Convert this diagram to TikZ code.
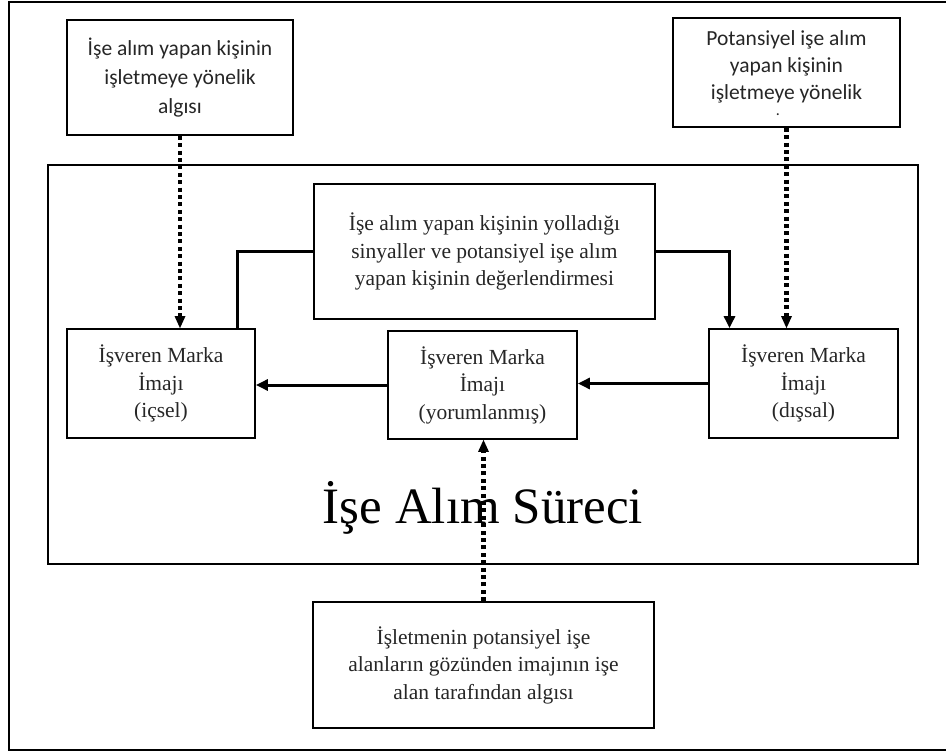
\documentclass[tikz,border=0pt]{standalone}
\usepackage{fontspec}
\setmainfont{Liberation Serif}
\newfontfamily\boxsans{Carlito}
\usetikzlibrary{arrows.meta,calc}

\tikzset{
  serifbox/.style={draw=black, line width=1.8pt, align=center, inner sep=0pt,
    font=\fontsize{21.5}{27.5}\selectfont, text=black!85},
  sansbox/.style={draw=black, line width=1.8pt, align=center, inner sep=0pt,
    font=\boxsans\fontsize{21.5}{29}\selectfont, text=black!85},
  sanstext/.style={align=center, inner sep=0pt,
    font=\boxsans\fontsize{21.5}{27}\selectfont, text=black!85},
  frameline/.style={draw=black, line width=2.4pt},
  flow/.style={draw=black, line width=3pt, -{Triangle[length=12pt,width=11pt]}},
  link/.style={draw=black, line width=3pt},
  dotflow/.style={draw=black, line width=4.4pt, dash pattern=on 4pt off 3.4pt,
    -{Triangle[length=12pt,width=11pt,line width=0pt]}},
}

\begin{document}
\begin{tikzpicture}[x=1pt,y=-1pt]
  \useasboundingbox (0,0) rectangle (946,754);

  % page frame
  \coordinate (f1) at (946,2);
  \coordinate (f2) at (9,2);
  \coordinate (f3) at (9,750);
  \coordinate (f4) at (946,750);
  \draw[frameline] (f1) -- (f2) -- (f3) -- (f4);

  % recruitment process frame and its title
  \node[draw=black, line width=2.4pt, minimum width=870pt, minimum height=399pt,
        inner sep=0pt] (proc) at (483,364.5) {};
  \node[anchor=base, inner sep=0pt, font=\fontsize{51}{56}\selectfont]
        (title) at (483,523) {İşe Alım Süreci};

  % outside perceptions
  \node[sansbox, minimum width=226pt, minimum height=115pt] (tl) at (180,77.5)
        {İşe alım yapan kişinin\\ işletmeye yönelik\\ algısı};
  \node[draw=black, line width=1.8pt, minimum width=227pt, minimum height=109pt,
        inner sep=0pt] (tr) at (786.5,72.5) {};
  \node[sanstext] (trtext) at (786.5,67)
        {Potansiyel işe alım\\ yapan kişinin\\ işletmeye yönelik};
  \node[anchor=base, inner sep=0pt, font=\boxsans\fontsize{16}{18}\selectfont,
        text=black!85] (trdot) at (778,116) {.};

  % boxes inside the process
  \node[serifbox, minimum width=341pt, minimum height=135pt] (sig) at (484.5,251.5)
        {İşe alım yapan kişinin yolladığı\\ sinyaller ve potansiyel işe alım\\ yapan kişinin değerlendirmesi};
  \node[serifbox, minimum width=188pt, minimum height=109pt] (il) at (161,383.5)
        {İşveren Marka\\ İmajı\\ (içsel)};
  \node[serifbox, minimum width=189pt, minimum height=108pt] (mid) at (482.5,385)
        {İşveren Marka\\ İmajı\\ (yorumlanmış)};
  \node[serifbox, minimum width=189pt, minimum height=109pt] (ir) at (803.5,383.5)
        {İşveren Marka\\ İmajı\\ (dışsal)};

  % outside the process, below
  \node[serifbox, minimum width=341pt, minimum height=126pt] (bot) at (483.5,665)
        {İşletmenin potansiyel işe\\ alanların gözünden imajının işe\\ alan tarafından algısı};

  % solid connectors
  \coordinate (ilin) at ($(il.north)+(76,0)$);
  \coordinate (irin) at ($(ir.north)+(-74,0)$);
  \draw[link] (sig.west) -| (ilin);
  \draw[flow] (sig.east) -| (irin);
  \draw[flow] (mid.west) -- (mid.west -| il.east);
  \draw[flow] (ir.west) -- (ir.west -| mid.east);

  % dotted connectors
  \draw[dotflow] (tl.south) -- (tl.south |- il.north);
  \draw[dotflow] (tr.south) -- (tr.south |- ir.north);
  \draw[dotflow] (bot.north) -- (bot.north |- mid.south);
\end{tikzpicture}
\end{document}
